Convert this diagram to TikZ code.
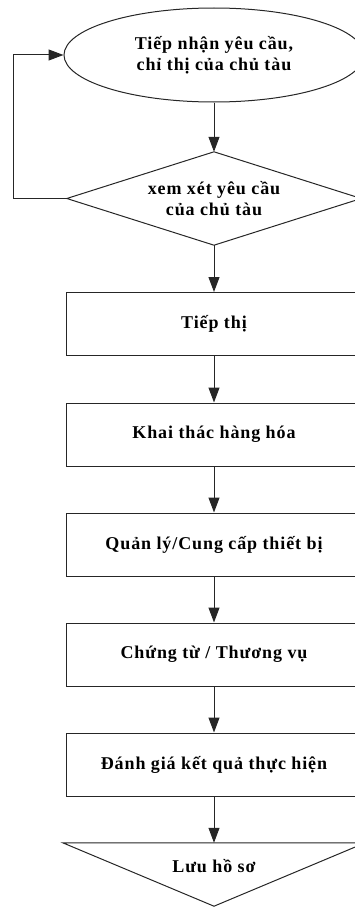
\documentclass[tikz,border=0pt]{standalone}
\usepackage{fontspec}
\setmainfont{Liberation Serif}
\newfontfamily\lblfont[LetterSpace=5]{Liberation Serif}
\usetikzlibrary{arrows.meta,shapes.geometric}

\tikzset{
  x=1pt, y=-1pt,
  lbl/.style={font={\lblfont\bfseries\fontsize{18}{21}\selectfont}, align=center, inner sep=0pt},
  shapeline/.style={draw=black!85, line width=1pt},
  stepbox/.style={lbl, shapeline, rectangle, minimum width=296pt, minimum height=63pt},
  startoval/.style={lbl, shapeline, ellipse, minimum width=300pt, minimum height=94pt},
  frame/.style={lbl, rectangle},
  flow/.style={draw=black!85, line width=1pt, -{Triangle[length=15pt, width=11pt]}}
}

\begin{document}
\begin{tikzpicture}
  \clip (0,0) rectangle (355,907);
  \useasboundingbox (0,0) rectangle (355,907);

  % start: request received
  \node[startoval] (recv) at (214,55) {Tiếp nhận yêu cầu,\\chỉ thị của chủ tàu};

  % decision
  \node[frame, minimum width=294pt, minimum height=93pt] (chk) at (214,198.5) {xem xét yêu cầu\\của chủ tàu};
  \draw[shapeline] (chk.north) -- (chk.east) -- (chk.south) -- (chk.west) -- cycle;

  % process steps
  \node[stepbox] (s1) at (214,324) {Tiếp thị};
  \node[stepbox] (s2) at (214,434.5) {Khai thác hàng hóa};
  \node[stepbox] (s3) at (214,544.5) {Quản lý/Cung cấp thiết bị};
  \node[stepbox] (s4) at (214,654.5) {Chứng từ / Thương vụ};
  \node[stepbox] (s5) at (214,764.5) {Đánh giá kết quả thực hiện};

  % archive (inverted triangle)
  \node[frame, minimum width=302pt, minimum height=63pt] (arch) at (214,874.5) {};
  \draw[shapeline] (arch.north west) -- (arch.north east) -- (arch.south) -- cycle;
  \node[lbl] (archtxt) at (214,866) {Lưu hồ sơ};

  % connectors
  \draw[flow] (recv.south) -- (chk.north);
  \draw[flow] (chk.south) -- (s1.north);
  \draw[flow] (s1.south) -- (s2.north);
  \draw[flow] (s2.south) -- (s3.north);
  \draw[flow] (s3.south) -- (s4.north);
  \draw[flow] (s4.south) -- (s5.north);
  \draw[flow] (s5.south) -- (arch.north);

  % feedback loop
  \coordinate (loopx) at (13,0);
  \draw[flow] (chk.west) -- (chk.west -| loopx) |- (recv.west);
\end{tikzpicture}
\end{document}
